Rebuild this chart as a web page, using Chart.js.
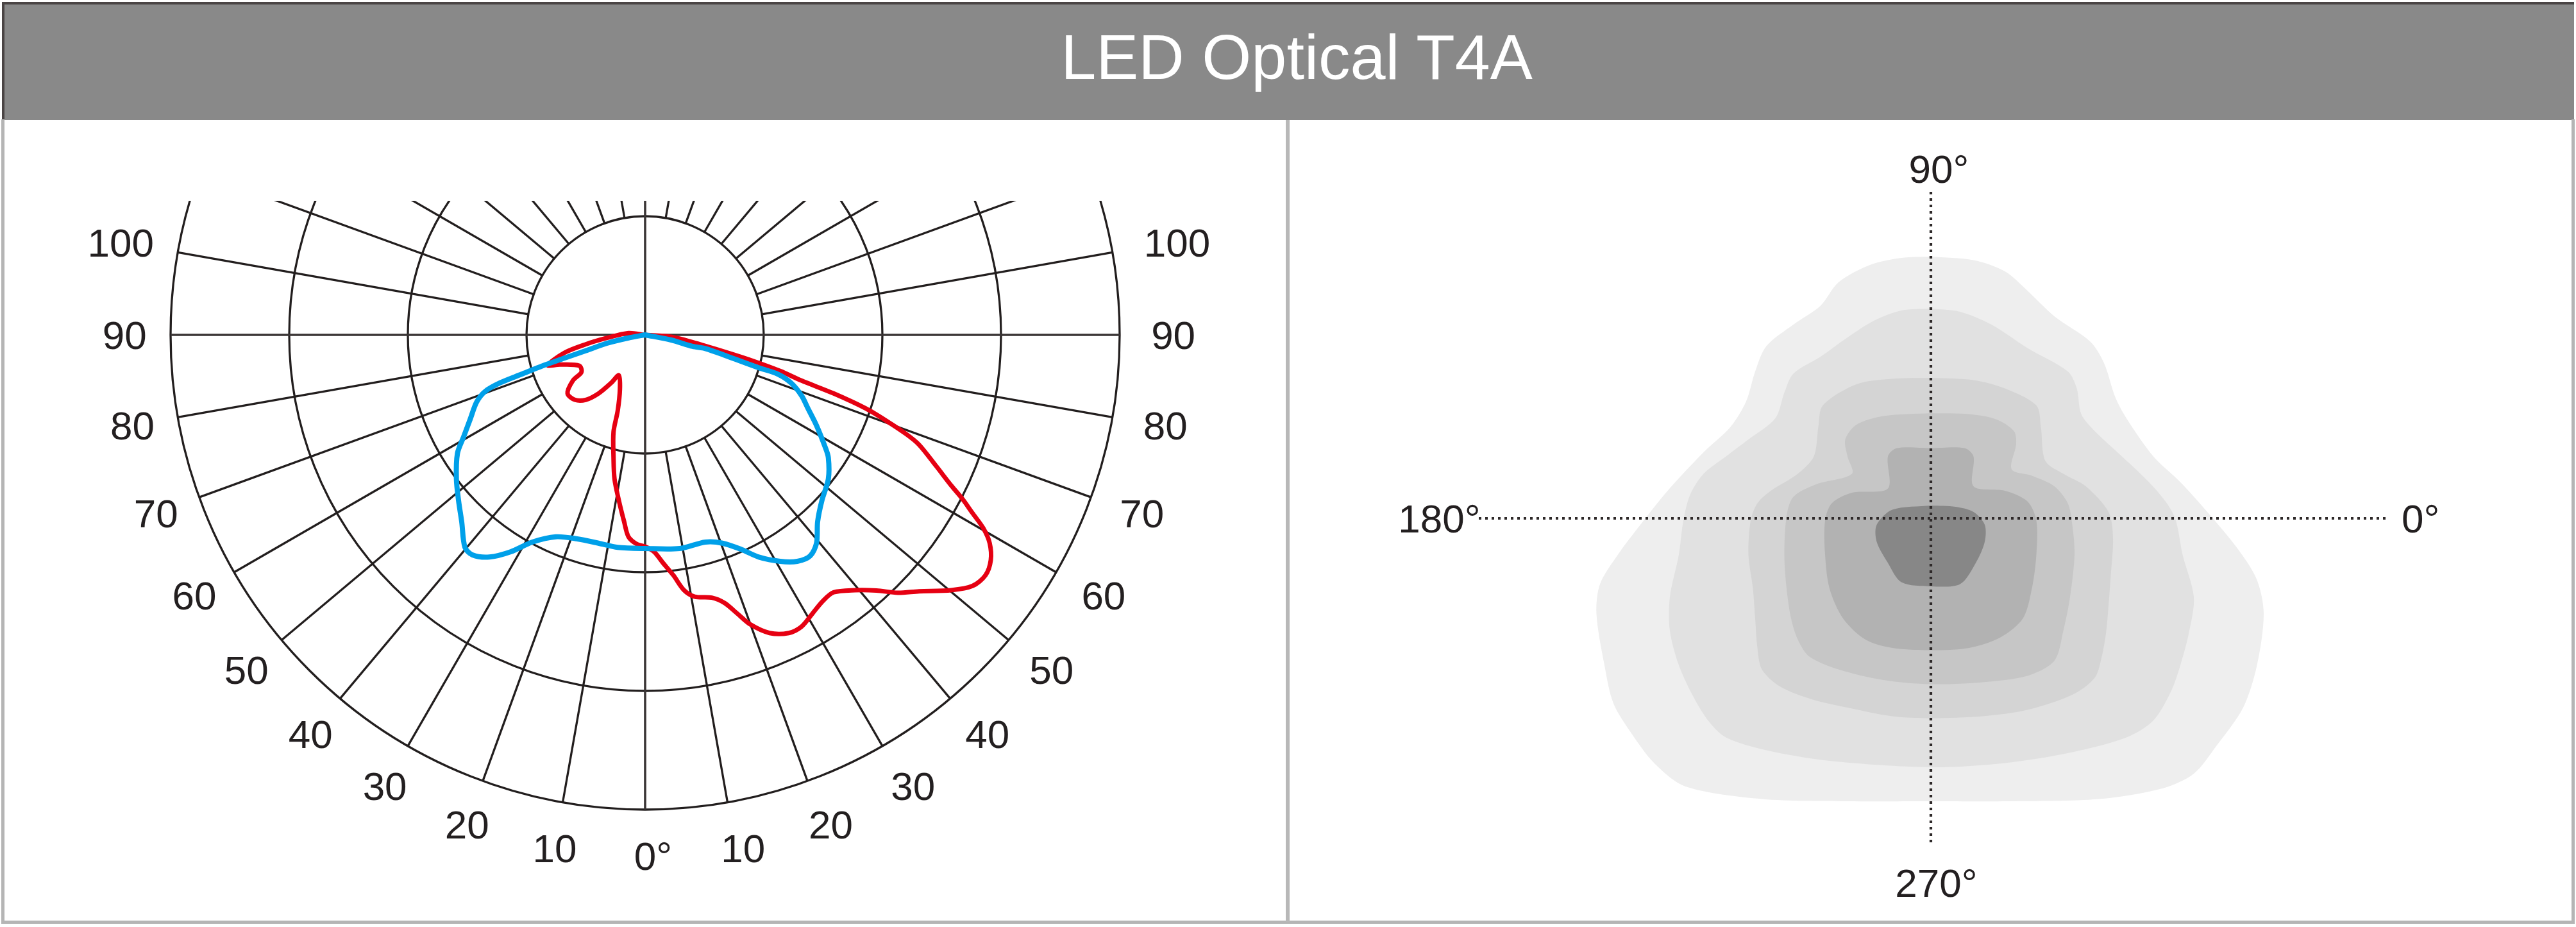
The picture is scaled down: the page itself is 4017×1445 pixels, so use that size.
<!DOCTYPE html>
<html>
<head>
<meta charset="utf-8">
<script src="https://cdn.jsdelivr.net/npm/chart.js@4.4.0/dist/chart.umd.min.js"></script>
<style>
html,body{margin:0;padding:0;background:#fff;}
body{width:4017px;height:1445px;position:relative;overflow:hidden;font-family:"Liberation Sans",Arial,Helvetica,sans-serif;}
#titlebar{position:absolute;left:3px;top:3px;width:4007px;height:180px;background:#898989;border-top:4px solid #4a4444;border-left:4px solid #4a4444;}
#title{position:absolute;left:2022px;top:39px;transform:translateX(-50%);font-size:99px;line-height:99px;color:#fff;white-space:nowrap;}
#frame{position:absolute;left:2px;top:186px;width:4013px;height:1254px;box-sizing:border-box;border:5px solid #b5b5b5;border-top:none;}
#divider{position:absolute;left:2005px;top:187px;width:6px;height:1250px;background:#b8b8b8;}
#polar{position:absolute;left:7px;top:187px;}
#isolux{position:absolute;left:2011px;top:187px;}
</style>
</head>
<body>
<div id="titlebar"></div>
<div id="title">LED Optical T4A</div>
<div id="frame"></div>
<div id="divider"></div>
<canvas id="polar" width="1998" height="1248"></canvas>
<canvas id="isolux" width="1999" height="1248"></canvas>
<script>
// ---------------- DATA ----------------
// Polar candela diagram: units where the outer ring = 100, origin = luminaire centre.
const ringLevels = [25, 50, 75, 100];
const spokeAngles = [10, 20, 30, 40, 50, 60, 70, 80, 100, 110, 120, 130, 140, 150, 160, 170];
const angleLabels = [0, 10, 20, 30, 40, 50, 60, 70, 80, 90, 100];

// C0-C180 plane (red) traced as [x, y] in diagram units
const redCurve = [
  [0,0],[-3.51,0.36],[-8.01,-0.64],[-12.53,-1.99],[-17.03,-3.78],[-20.5,-6.4],[-17.93,-6.26],
  [-13.88,-6.49],[-13.42,-7.84],[-15.23,-9.64],[-16.35,-12.34],[-14.77,-13.69],[-12.53,-13.69],
  [-9.82,-12.34],[-7.12,-10.09],[-5.54,-8.51],[-5.31,-11.45],[-5.77,-15.95],[-6.66,-20.45],
  [-6.66,-25.85],[-6.45,-30.36],[-5.54,-34.86],[-4.42,-39.36],[-3.51,-42.53],[-1.72,-44.09],
  [0,-44.59],[1.89,-45.68],[3.69,-47.93],[5.95,-50.64],[8.20,-53.78],[10.45,-55.14],[14.05,-55.36],
  [16.76,-56.49],[19.46,-58.74],[22.16,-60.99],[26.22,-62.80],[30.27,-62.80],[32.97,-61.45],
  [35.23,-58.74],[37.47,-56.04],[39.73,-54.23],[44.23,-53.78],[48.74,-53.85],[53.24,-54.32],
  [57.74,-54.01],[64.50,-53.78],[69.01,-52.88],[71.72,-50.64],[72.84,-47.47],[72.61,-43.88],
  [71.26,-40.72],[69.01,-37.57],[66.76,-34.42],[64.50,-31.72],[61.35,-27.66],[57.74,-23.15],
  [55.04,-20.91],[50.99,-18.20],[46.49,-15.50],[39.73,-12.34],[32.97,-9.64],[28.47,-7.61],
  [21.72,-5.14],[16.76,-3.55],[10.0,-1.53],[5.50,-0.41],[0,0]
];
// C90-C270 plane (blue)
const blueCurve = [
  [0,0],[-3.51,-0.64],[-8.01,-1.76],[-12.53,-3.34],[-17.03,-4.91],[-21.53,-6.49],[-26.04,-8.28],
  [-30.54,-10.09],[-33.69,-11.89],[-35.50,-14.15],[-36.85,-17.74],[-38.20,-21.35],[-39.55,-24.96],
  [-39.77,-30.36],[-39.32,-34.86],[-38.65,-39.36],[-37.97,-44.77],[-36.39,-46.35],[-32.80,-46.80],
  [-28.28,-45.68],[-23.78,-43.65],[-18.82,-42.53],[-14.32,-42.97],[-9.82,-43.88],[-5.77,-44.77],
  [0,-45.0],[7.30,-45.0],[12.70,-43.65],[16.31,-43.88],[20.36,-45.23],[23.96,-46.80],[28.47,-47.70],
  [32.07,-47.70],[34.77,-46.58],[36.12,-43.88],[36.35,-39.36],[37.26,-34.86],[38.61,-30.36],
  [38.61,-25.85],[37.93,-23.61],[36.12,-19.09],[34.32,-15.50],[32.97,-12.80],[30.72,-10.09],
  [28.01,-8.28],[23.96,-6.93],[17.20,-4.46],[12.70,-2.88],[10.0,-2.43],[5.50,-1.08],[0,0]
];

// Isolux diagram: contour outlines, [x, y] in diagram units (origin at the crosshair)
const isoluxLevel1 = [[0,8.16],[1.33,8.05],[2.31,7.70],[3.01,7.10],[3.85,6.30],[4.97,5.51],[5.40,4.84],[5.75,3.78],[6.10,3.12],[6.94,1.93],[7.78,1.13],[8.62,0.20],[9.60,-0.99],[10.17,-1.92],[10.38,-2.98],[10.17,-4.58],[9.74,-5.90],[8.90,-7.10],[8.20,-7.96],[7.22,-8.42],[5.25,-8.75],[2.45,-8.82],[0,-8.82],[-2.60,-8.82],[-5.27,-8.75],[-7.65,-8.36],[-8.63,-7.63],[-9.34,-6.70],[-9.90,-5.77],[-10.18,-4.58],[-10.43,-2.98],[-10.32,-2.05],[-9.76,-1.13],[-9.06,-0.20],[-8.21,0.86],[-7.09,2.06],[-6.25,2.85],[-5.76,3.65],[-5.48,4.58],[-5.13,5.37],[-4.29,6.04],[-3.44,6.63],[-2.88,7.36],[-1.90,7.90],[-0.92,8.12],[0,8.16]];
const isoluxLevel2 = [[0,6.54],[0.91,6.44],[1.89,6.04],[3.01,5.31],[4.27,4.58],[4.55,4.05],[4.69,3.25],[5.11,2.72],[5.96,1.93],[6.80,1.13],[7.36,0.47],[7.64,-0.07],[7.85,-1.13],[8.20,-2.45],[8.06,-3.51],[7.78,-4.58],[7.50,-5.37],[6.94,-6.30],[6.10,-6.83],[4.41,-7.29],[2.31,-7.63],[0,-7.76],[-3.16,-7.56],[-5.13,-7.23],[-6.39,-6.83],[-6.95,-6.30],[-7.44,-5.50],[-7.86,-4.58],[-8.14,-3.51],[-8.14,-2.45],[-7.86,-1.13],[-7.72,-0.07],[-7.51,0.73],[-7.09,1.39],[-6.39,1.93],[-5.69,2.46],[-4.85,3.12],[-4.57,3.92],[-4.29,4.51],[-3.44,5.04],[-2.60,5.64],[-1.76,6.17],[-0.92,6.48],[0,6.54]];
const isoluxLevel3 = [[0,4.38],[1.33,4.31],[2.31,4.05],[3.29,3.52],[3.43,2.85],[3.57,1.79],[4.13,1.39],[4.83,1.00],[5.54,0.20],[5.68,-0.60],[5.61,-1.79],[5.54,-2.72],[5.47,-3.51],[5.33,-4.31],[5.11,-4.97],[4.41,-5.50],[3.01,-5.97],[1.61,-6.17],[0,-6.23],[-1.20,-6.17],[-2.60,-5.90],[-3.72,-5.64],[-4.71,-5.24],[-5.27,-4.71],[-5.41,-4.04],[-5.48,-3.12],[-5.55,-2.19],[-5.69,-1.13],[-5.62,-0.07],[-5.41,0.47],[-4.99,0.86],[-4.15,1.39],[-3.65,1.93],[-3.51,2.85],[-3.37,3.52],[-2.32,4.18],[-1.20,4.35],[0,4.38]];
const isoluxLevel4 = [[0,3.28],[1.19,3.25],[2.03,3.09],[2.59,2.72],[2.66,2.32],[2.52,1.53],[3.15,1.33],[3.85,1.00],[4.27,0.47],[4.41,-0.20],[4.48,-1.13],[4.34,-2.45],[4.13,-3.51],[3.85,-4.44],[3.01,-4.91],[1.61,-5.11],[0,-5.17],[-1.48,-5.04],[-2.88,-4.71],[-3.79,-4.31],[-4.15,-3.78],[-4.36,-3.12],[-4.50,-2.19],[-4.57,-1.13],[-4.50,0.07],[-4.29,0.67],[-3.58,1.06],[-2.46,1.39],[-2.60,1.93],[-2.67,2.46],[-2.32,2.92],[-1.48,3.19],[0,3.28]];
const isoluxLevel5 = [[0,2.19],[1.05,2.19],[1.33,1.93],[1.33,1.00],[2.31,0.86],[3.01,0.53],[3.29,-0.07],[3.29,-1.13],[3.15,-2.19],[2.87,-3.12],[2.17,-3.71],[1.19,-4.04],[0,-4.11],[-1.20,-4.04],[-2.04,-3.78],[-2.74,-3.12],[-3.16,-2.19],[-3.30,-1.13],[-3.30,-0.07],[-3.09,0.47],[-2.46,0.80],[-1.34,0.93],[-1.34,1.93],[-1.06,2.19],[0,2.19]];
const isoluxLevel6 = [[0,0.40],[0.77,0.36],[1.33,0.20],[1.68,-0.20],[1.68,-0.73],[1.40,-1.39],[0.91,-2.05],[0,-2.12],[-0.92,-1.99],[-1.34,-1.39],[-1.69,-0.73],[-1.69,-0.20],[-1.20,0.27],[0,0.40]];
const crossX = [-14.1, 14.26];
const crossY = [10.18, -10.2];
const crossLabels = ['90°', '180°', '0°', '270°'];

// ---------------- STYLE ----------------
const FONT = '"Liberation Sans", Arial, Helvetica, sans-serif';
const LABEL_SIZE = 62;
const TEXT_COLOR = '#231f20';
const GRID_COLOR = '#221e1e';
const AXIS_COLOR = '#3a3535';
const isoluxColors = ['#eeeeee', '#e1e1e1', '#d4d4d4', '#c6c6c6', '#b2b2b2', '#878787'];

const toXY = arr => arr.map(p => ({x: p[0], y: p[1]}));
const deg = Math.PI / 180;

// ---------------- POLAR CHART ----------------
const polarGrid = {
  id: 'polarGrid',
  beforeDatasetsDraw(chart) {
    const {ctx, chartArea: a, scales: {x, y}} = chart;
    const P = (r, th) => [x.getPixelForValue(r * Math.sin(th * deg)), y.getPixelForValue(-r * Math.cos(th * deg))];
    const cx = x.getPixelForValue(0), cy = y.getPixelForValue(0);
    const outer = ringLevels[ringLevels.length - 1], inner = ringLevels[0];
    ctx.save();
    ctx.beginPath(); ctx.rect(a.left, a.top, a.right - a.left, a.bottom - a.top); ctx.clip();
    ctx.strokeStyle = GRID_COLOR; ctx.lineWidth = 3.3;
    ringLevels.forEach(r => {
      ctx.beginPath();
      ctx.arc(cx, cy, x.getPixelForValue(r) - cx, 0, Math.PI * 2);
      ctx.stroke();
    });
    [-1, 1].forEach(side => spokeAngles.forEach(th => {
      const p0 = P(inner, side * th), p1 = P(outer, side * th);
      ctx.beginPath(); ctx.moveTo(p0[0], p0[1]); ctx.lineTo(p1[0], p1[1]); ctx.stroke();
    }));
    ctx.strokeStyle = AXIS_COLOR; ctx.lineWidth = 3.6;
    let p0 = P(outer, -90), p1 = P(outer, 90);
    ctx.beginPath(); ctx.moveTo(p0[0], p0[1]); ctx.lineTo(p1[0], p1[1]); ctx.stroke();
    p0 = P(outer, 0); p1 = P(outer, 180);
    ctx.beginPath(); ctx.moveTo(p0[0], p0[1]); ctx.lineTo(p1[0], p1[1]); ctx.stroke();
    ctx.restore();
  },
  afterDraw(chart) {
    const {ctx, scales: {x, y}} = chart;
    ctx.save();
    ctx.fillStyle = TEXT_COLOR;
    ctx.font = LABEL_SIZE + 'px ' + FONT;
    ctx.textAlign = 'center';
    const base = 0.358 * LABEL_SIZE;
    angleLabels.forEach(a => {
      const r = a >= 100 ? 112.2 : 109.7;
      if (a === 0) {
        const px = x.getPixelForValue(0), py = y.getPixelForValue(-r);
        const w0 = ctx.measureText('0').width;
        ctx.textAlign = 'left';
        ctx.fillText('0°', px - w0 / 2, py + base);
        ctx.textAlign = 'center';
        return;
      }
      const s = Math.sin(a * deg) * r, c = -Math.cos(a * deg) * r;
      ctx.fillText(String(a), x.getPixelForValue(-s), y.getPixelForValue(c) + base);
      ctx.fillText(String(a), x.getPixelForValue(s + 1.6), y.getPixelForValue(c) + base);
    });
    ctx.restore();
  }
};

new Chart(document.getElementById('polar'), {
  type: 'scatter',
  data: {
    datasets: [
      {label: 'C90-C270', data: toXY(blueCurve), showLine: true, borderColor: '#00a0e9', borderWidth: 8,
       pointRadius: 0, tension: 0.3, fill: false, borderJoinStyle: 'round', borderCapStyle: 'round'},
      {label: 'C0-C180', data: toXY(redCurve), showLine: true, borderColor: '#e60012', borderWidth: 7,
       pointRadius: 0, tension: 0.3, fill: false, borderJoinStyle: 'round', borderCapStyle: 'round'}
    ]
  },
  options: {
    responsive: false, animation: false, devicePixelRatio: 1,
    layout: {padding: {top: 126, left: 0, right: 0, bottom: 0}},
    scales: {
      x: {type: 'linear', min: -135, max: 135, display: false},
      y: {type: 'linear', min: -123.378, max: 28.243, display: false}
    },
    plugins: {legend: {display: false}, tooltip: {enabled: false}}
  },
  plugins: [polarGrid]
});

// ---------------- ISOLUX CHART ----------------
const crosshair = {
  id: 'crosshair',
  afterDatasetsDraw(chart) {
    const {ctx, scales: {x, y}} = chart;
    ctx.save();
    ctx.strokeStyle = '#2e2929'; ctx.lineWidth = 4.2; ctx.setLineDash([4, 6]);
    ctx.beginPath();
    ctx.moveTo(x.getPixelForValue(crossX[0]), y.getPixelForValue(0));
    ctx.lineTo(x.getPixelForValue(crossX[1]), y.getPixelForValue(0));
    ctx.stroke();
    ctx.beginPath();
    ctx.moveTo(x.getPixelForValue(0), y.getPixelForValue(crossY[0]));
    ctx.lineTo(x.getPixelForValue(0), y.getPixelForValue(crossY[1]));
    ctx.stroke();
    ctx.setLineDash([]);
    ctx.fillStyle = TEXT_COLOR;
    ctx.font = LABEL_SIZE + 'px ' + FONT;
    const base = 0.358 * LABEL_SIZE;
    const cxp = x.getPixelForValue(0);
    // 90° (top) and 270° (bottom): digits centred on the vertical axis
    ctx.textAlign = 'left';
    let w = ctx.measureText(crossLabels[0].replace('°', '')).width;
    ctx.fillText(crossLabels[0], cxp - w / 2, y.getPixelForValue(10.9) + base);
    w = ctx.measureText(crossLabels[3].replace('°', '')).width;
    ctx.fillText(crossLabels[3], cxp - w / 2 - 4, y.getPixelForValue(-11.36) + base);
    ctx.textAlign = 'right';
    ctx.fillText(crossLabels[1], x.getPixelForValue(crossX[0] + 0.05), y.getPixelForValue(0) + base);
    ctx.textAlign = 'left';
    ctx.fillText(crossLabels[2], x.getPixelForValue(crossX[1] + 0.42), y.getPixelForValue(0) + base);
    ctx.restore();
  }
};

const levels = [isoluxLevel1, isoluxLevel2, isoluxLevel3, isoluxLevel4, isoluxLevel5, isoluxLevel6];
new Chart(document.getElementById('isolux'), {
  type: 'scatter',
  data: {
    datasets: levels.map((lv, i) => ({
      label: 'Level ' + (i + 1), data: toXY(lv), showLine: true, fill: 'shape',
      backgroundColor: isoluxColors[i], borderColor: isoluxColors[i], borderWidth: 0,
      pointRadius: 0, tension: 0.3, order: levels.length - i
    }))
  },
  options: {
    responsive: false, animation: false, devicePixelRatio: 1,
    layout: {padding: 0},
    scales: {
      x: {type: 'linear', min: -20, max: 19.98, display: false},
      y: {type: 'linear', min: -12.54, max: 12.42, display: false}
    },
    plugins: {legend: {display: false}, tooltip: {enabled: false}}
  },
  plugins: [crosshair]
});
</script>
</body>
</html>
